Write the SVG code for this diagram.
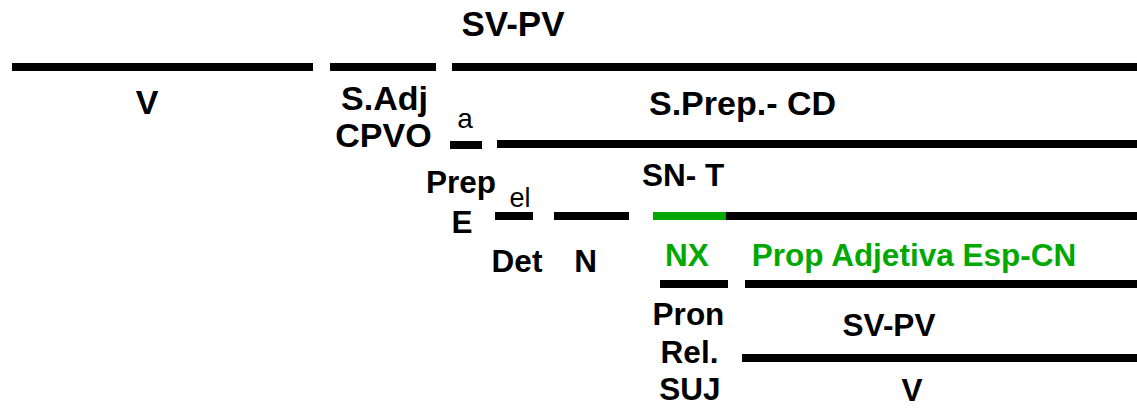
<svg xmlns="http://www.w3.org/2000/svg" width="1137" height="408" viewBox="0 0 1137 408">
<style>
text{font-family:"Liberation Sans",Arial,sans-serif;fill:#000;text-anchor:middle}
.b{font-weight:bold}
.L{font-size:34px}
.M{font-size:31.5px}
.r{font-weight:normal;font-size:28px}
.g{fill:#00A800}
.ln{fill:#000}
.gl{fill:#00A800}
</style>
<rect width="1137" height="408" fill="#fff"/>
<g id="connectors">
<rect class="ln" x="12" y="63" width="301" height="8"/>
<rect class="ln" x="330" y="63" width="106" height="8"/>
<rect class="ln" x="452" y="63" width="685" height="8"/>
<rect class="ln" x="450" y="141" width="32" height="8"/>
<rect class="ln" x="497" y="140" width="640" height="8"/>
<rect class="ln" x="495" y="212" width="38" height="8"/>
<rect class="ln" x="554" y="212" width="75" height="8"/>
<rect class="gl" x="653" y="212" width="73" height="8"/>
<rect class="ln" x="726" y="212" width="411" height="8"/>
<rect class="ln" x="660" y="280" width="68" height="8"/>
<rect class="ln" x="745" y="280" width="392" height="8"/>
<rect class="ln" x="742" y="354" width="395" height="8"/>
</g>
<g id="n-svpv-top"><text class="b" x="513" y="36" style="font-size:35px">SV-PV</text></g>
<g id="n-v-top"><text class="b L" x="147" y="114">V</text></g>
<g id="n-sadj"><text class="b L" x="384.5" y="110">S.Adj</text><text class="b L" x="383.5" y="147">CPVO</text></g>
<g id="n-a"><text class="r" x="465" y="128">a</text></g>
<g id="n-sprep"><text class="b L" x="742.5" y="115">S.Prep.- CD</text></g>
<g id="n-prep"><text class="b M" x="461" y="193">Prep</text><text class="b M" x="462" y="233">E</text></g>
<g id="n-el"><text class="r" x="520" y="207" style="font-size:27px">el</text></g>
<g id="n-snt"><text class="b M" x="683" y="186">SN- T</text></g>
<g id="n-det"><text class="b M" x="517" y="272">Det</text></g>
<g id="n-n"><text class="b M" x="585.5" y="272">N</text></g>
<g id="n-nx"><text class="b M g" x="687" y="266">NX</text></g>
<g id="n-propadj"><text class="b M g" x="914" y="266">Prop Adjetiva Esp-CN</text></g>
<g id="n-pron"><text class="b M" x="688.5" y="325">Pron</text><text class="b M" x="689.5" y="363">Rel.</text><text class="b M" x="690" y="400">SUJ</text></g>
<g id="n-svpv-low"><text class="b M" x="889" y="336">SV-PV</text></g>
<g id="n-v-low"><text class="b M" x="912" y="401">V</text></g>
</svg>
